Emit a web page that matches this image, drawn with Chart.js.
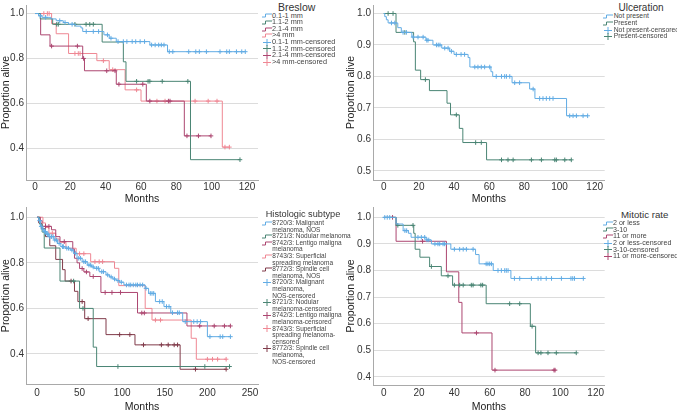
<!DOCTYPE html>
<html lang="en">
<head>
<meta charset="UTF-8">
<title>Kaplan-Meier survival by Breslow, ulceration, subtype and mitotic rate</title>
<script src="https://cdn.jsdelivr.net/npm/chart.js@4.4.1/dist/chart.umd.min.js"></script>
<style>
  body { margin: 0; background: #fff; width: 677px; height: 415px; overflow: hidden; position: relative;
         font-family: "Liberation Sans", Arial, sans-serif; }
  canvas { position: absolute; }
  .lt { position: absolute; white-space: nowrap; color: #333; transform: translate(-50%, -50%); }
  .row { position: absolute; white-space: pre; color: #444; }
  .ic { position: absolute; display: block; }
</style>
</head>
<body>
<canvas id="breslow"></canvas>
<canvas id="ulceration"></canvas>
<canvas id="histology"></canvas>
<canvas id="mitotic"></canvas>
<script>
  // ---- Breslow (months, proportion alive) ----
  const breslowNames = ['0.1-1 mm', '1.1-2 mm', '2.1-4 mm', '>4 mm'];
  const bres1T = [0, 2, 4, 9, 12, 16, 19, 23, 26, 27, 39, 42, 46, 65, 75];
  const bres1S = [1, 0.99, 0.983, 0.976, 0.968, 0.96, 0.952, 0.944, 0.936, 0.92, 0.905, 0.89, 0.875, 0.86, 0.83];
  const bres1C = [3, 6, 14, 17, 21, 29, 33, 36, 41, 43, 47, 50, 52, 55, 57, 59.5, 62, 66, 68, 70, 71.5, 73,
                  76, 78, 87, 91, 93, 97, 104.7, 108.5, 110, 114, 117, 119];
  const bres2T = [0, 3, 10, 38, 50, 51.5, 88];
  const bres2S = [1, 0.976, 0.952, 0.873, 0.785, 0.698, 0.349];
  const bres2C = [12.3, 13.2, 22.6, 28.9, 31, 33, 57.5, 64, 65, 72, 86.5, 116];
  const bres3T = [0, 3.2, 8.5, 27, 28, 46, 63, 84.5];
  const bres3S = [1, 0.905, 0.855, 0.8, 0.745, 0.685, 0.61, 0.455];
  const bres3C = [9.4, 24, 27.5, 40.6, 45.3, 47.5, 61, 65, 75.5, 76.4, 86, 92.5, 99.6];
  const bres4T = [0, 9.4, 12, 19, 35, 42, 51, 60, 106];
  const bres4S = [1, 0.955, 0.91, 0.822, 0.79, 0.75, 0.66, 0.61, 0.405];
  const bres4C = [5, 7, 8, 22.6, 24.5, 25.5, 38.7, 44, 57.5, 69, 73.6, 90.6, 98, 103, 107.5, 110];

  // ---- Ulceration ----
  const ulcNames = ['Not present', 'Present'];
  const ulcNoT = [0, 0.6, 1.5, 2.5, 8, 10, 16, 24, 28, 33, 37.5, 40, 48, 49, 61, 62, 73, 83, 86, 104];
  const ulcNoS = [1, 0.99, 0.98, 0.97, 0.955, 0.94, 0.925, 0.915, 0.9, 0.89, 0.88, 0.87, 0.86, 0.83, 0.815, 0.8,
                  0.78, 0.76, 0.73, 0.675];
  const ulcNoC = [4.4, 6.3, 11, 12.9, 16.7, 19.5, 22.4, 24.5, 25.2, 30, 31, 32, 34.7, 36.6, 38.5, 41.3, 44, 46,
                  51.8, 53.6, 55.5, 57.4, 60.3, 64, 67, 68.8, 69.8, 71.7, 74.5, 77.3, 85, 88.7, 90.6, 92.5, 94.4,
                  96.3, 105.8, 107.7, 109.6, 113.4, 116];
  const ulcYesT = [0, 7, 17, 18, 21, 26, 36, 38, 43, 45, 58.5];
  const ulcYesS = [1, 0.94, 0.91, 0.82, 0.79, 0.755, 0.715, 0.678, 0.635, 0.59, 0.535];
  const ulcYesC = [2.5, 5.3, 12, 23.7, 41.3, 52.3, 55.5, 67, 70.7, 73.6, 84, 89.7, 97.3, 98.2, 103, 106.7];

  // ---- Histologic subtype ----
  const histNames = ['8720/3: Malignant\nmelanoma, NOS', '8721/3: Nodular melanoma', '8742/3: Lentigo maligna\nmelanoma',
                     '8743/3: Superficial\nspreading melanoma', '8772/3: Spindle cell\nmelanoma, NOS'];
  const histCensNames = ['8720/3: Malignant\nmelanoma,\nNOS-censored', '8721/3: Nodular\nmelanoma-censored',
                         '8742/3: Lentigo maligna\nmelanoma-censored', '8743/3: Superficial\nspreading melanoma-\ncensored',
                         '8772/3: Spindle cell\nmelanoma,\nNOS-censored'];
  const hist1T = [0, 2, 4, 6, 8, 11, 14, 20, 24, 28, 33, 39, 43, 47, 53, 59, 64, 67, 73, 81, 85, 89, 93, 97, 102,
                  127, 131, 139, 149, 157, 171, 200];
  const hist1S = [1, 0.985, 0.96, 0.948, 0.937, 0.926, 0.915, 0.9, 0.885, 0.871, 0.864, 0.856, 0.842, 0.82, 0.805,
                  0.79, 0.782, 0.776, 0.761, 0.747, 0.738, 0.729, 0.722, 0.715, 0.703, 0.688, 0.666, 0.63, 0.608,
                  0.581, 0.542, 0.476];
  const hist1C = [3, 5, 7, 9, 10, 12, 13, 15, 17, 19, 21, 23, 26, 30, 31, 35, 37, 41, 45, 49, 51, 55, 57, 61, 63,
                  66, 70, 72, 76, 78, 83, 87, 91, 95, 99, 105, 108, 110, 113, 116, 118, 121, 124, 128, 133, 135, 137,
                  144, 147, 152, 155, 159, 165, 167, 174, 184, 188, 192, 203, 215, 218, 227];
  const hist2T = [0, 3, 6, 8.5, 27, 50, 66, 70];
  const hist2S = [1, 0.97, 0.935, 0.865, 0.72, 0.6, 0.43, 0.345];
  const hist2C = [43, 54, 95, 197, 226];
  const hist3T = [0, 4, 6, 17, 22, 27, 42, 44, 47, 50, 55, 62, 75, 118, 176];
  const hist3S = [1, 0.985, 0.96, 0.945, 0.915, 0.893, 0.86, 0.82, 0.8, 0.775, 0.76, 0.74, 0.67, 0.58, 0.523];
  const hist3C = [10, 14, 32, 53, 58, 66, 80, 88, 98, 123, 126, 191, 208, 220, 227];
  const hist4T = [0, 7, 10, 14, 22, 26, 34, 46, 63, 91, 96, 127, 135, 181, 187];
  const hist4S = [1, 0.975, 0.955, 0.93, 0.905, 0.89, 0.864, 0.84, 0.805, 0.776, 0.7, 0.6, 0.549, 0.469, 0.377];
  const hist4C = [18, 50, 55, 68, 73, 77, 139, 145, 200, 206, 212, 222];
  const hist5T = [0, 2, 5, 10, 15, 22, 30, 33, 44, 48, 56, 81, 115, 168];
  const hist5S = [1, 0.975, 0.95, 0.915, 0.875, 0.815, 0.77, 0.72, 0.675, 0.63, 0.555, 0.485, 0.44, 0.333];
  const hist5C = [40, 53, 60, 97, 109, 125, 146, 154, 161, 165, 186, 222];

  // ---- Mitotic rate ----
  const mitNames = ['2 or less', '3-10', '11 or more'];
  const mit1T = [0, 7, 11, 14, 15.5, 24, 27, 38, 52, 54, 62, 72];
  const mit1S = [1, 0.975, 0.95, 0.94, 0.925, 0.915, 0.9, 0.88, 0.86, 0.825, 0.8, 0.77];
  const mit1C = [0.6, 2, 3.4, 12, 13, 19.4, 21.3, 23.2, 24.5, 25.5, 29, 30.7, 31.7, 33.6, 34.5, 40, 43, 45, 46.8,
                 50.6, 58, 59, 60, 61, 64.7, 66.6, 68.5, 69.4, 70.4, 74, 77, 83.6, 87.4, 89, 92, 95, 100.6, 106, 107,
                 108, 113];
  const mit2T = [0, 7, 17, 17.8, 20.5, 26, 32.6, 39, 58, 83, 86];
  const mit2S = [1, 0.97, 0.94, 0.88, 0.85, 0.815, 0.78, 0.745, 0.675, 0.59, 0.49];
  const mit2C = [8, 16.6, 27, 36.4, 40, 43, 45, 49.6, 50.6, 55, 56, 71.3, 77, 84, 87.4, 89, 93, 97.7, 109];
  const mit3T = [0, 7, 35.5, 42.5, 44.3, 61.3];
  const mit3S = [1, 0.91, 0.795, 0.68, 0.565, 0.425];
  const mit3C = [5, 22, 52.5, 63, 96.4, 97];

  // axis ticks
  const monthTicks120 = [0, 20, 40, 60, 80, 100, 120];
  const monthTicks250 = [0, 50, 100, 150, 200, 250];
  const propTicksWide = [0.4, 0.6, 0.8, 1.0];
  const propTicksUlc = [0.5, 0.6, 0.7, 0.8, 0.9, 1.0];
  const propTicksMit = [0.4, 0.5, 0.6, 0.7, 0.8, 0.9, 1.0];

  const BLUE = '#62ace4', TEAL = '#4a8574', CRIMSON = '#ac4670', PINK = '#ef8793', BROWN = '#803b4a';
  const AXIS = '#a9a9a9', GRID = '#dcdcdc';
  Chart.defaults.font.family = '"Liberation Sans", Arial, sans-serif';

  // survival value in force at time t (KM step)
  function stepAt(T, S, t) {
    let v = S[0];
    for (let i = 0; i < T.length; i++) if (T[i] <= t) v = S[i];
    return v;
  }

  function kmSets(T, S, C, color) {
    const pts = T.map((t, i) => ({x: t, y: S[i]}));
    const end = Math.max(...C);
    if (end > T[T.length - 1]) pts.push({x: end, y: S[S.length - 1]});
    return [
      {data: pts, stepped: true, borderColor: color, borderWidth: 1, pointRadius: 0, fill: false},
      {data: C.map(t => ({x: t, y: stepAt(T, S, t)})), showLine: false, pointStyle: 'cross',
       pointRadius: 2.3, borderColor: color, borderWidth: 1}
    ];
  }

  function makeChart(id, box, xr, yr, xt, yt, datasets) {
    const cv = document.getElementById(id);
    cv.width = box.w; cv.height = box.h;
    cv.style.left = box.left + 'px'; cv.style.top = box.top + 'px';
    return new Chart(cv, {
      type: 'line',
      data: {datasets},
      options: {
        responsive: false, animation: false, events: [],
        layout: {padding: {left: 0, top: box.t - box.top, right: box.left + box.w - box.r, bottom: 0}},
        plugins: {legend: {display: false}, tooltip: {enabled: false}},
        scales: {
          x: {
            type: 'linear', min: xr[0], max: xr[1],
            afterBuildTicks: s => { s.ticks = xt.map(v => ({value: v})); },
            afterFit: s => { s.height = box.top + box.h - box.b; s.paddingLeft = 0; s.paddingRight = 0; },
            ticks: {autoSkip: false, maxRotation: 0, padding: box.xpad, color: '#333', font: {size: 10},
                    callback: v => String(v)},
            grid: {display: false, drawTicks: false},
            border: {display: true, color: AXIS, width: 1},
            title: {display: true, text: 'Months', color: '#222', font: {size: 10.5},
                    padding: {top: 0, bottom: box.tpad}}
          },
          y: {
            type: 'linear', min: yr[0], max: yr[1],
            afterBuildTicks: s => { s.ticks = yt.map(v => ({value: v})); },
            afterFit: s => { s.width = box.l - box.left; s.paddingTop = 0; s.paddingBottom = 0; },
            ticks: {autoSkip: false, padding: 2, color: '#333', font: {size: 10}, callback: v => v.toFixed(1)},
            grid: {color: GRID, lineWidth: 1, drawTicks: false},
            border: {display: true, color: AXIS, width: 1},
            title: {display: true, text: 'Proportion alive', color: '#222', font: {size: 10.5},
                    padding: {top: box.ypad, bottom: 0}}
          }
        }
      }
    });
  }

  makeChart('breslow',
    {left: 0, top: 0, w: 266, h: 206, l: 26, r: 258, t: 2, b: 180, xpad: 1, tpad: 0.7, ypad: 0},
    [-5.09, 126.2], [0.2585, 1.038], monthTicks120, propTicksWide,
    [...kmSets(bres1T, bres1S, bres1C, BLUE), ...kmSets(bres2T, bres2S, bres2C, TEAL),
     ...kmSets(bres3T, bres3S, bres3C, CRIMSON), ...kmSets(bres4T, bres4S, bres4C, PINK)]);

  makeChart('ulceration',
    {left: 338, top: 0, w: 273, h: 206, l: 373, r: 604.7, t: 2, b: 180, xpad: 1, tpad: 0.7, ypad: 6.4},
    [-6.1, 125.7], [0.471, 1.027], monthTicks120, propTicksUlc,
    [...kmSets(ulcNoT, ulcNoS, ulcNoC, BLUE), ...kmSets(ulcYesT, ulcYesS, ulcYesC, TEAL)]);

  makeChart('histology',
    {left: 0, top: 200, w: 266, h: 215, l: 26, r: 258, t: 207, b: 384.3, xpad: 2.7, tpad: 1.4, ypad: 0},
    [-12.9, 259.4], [0.267, 1.045], monthTicks250, propTicksWide,
    [...kmSets(hist1T, hist1S, hist1C, BLUE), ...kmSets(hist2T, hist2S, hist2C, TEAL),
     ...kmSets(hist3T, hist3S, hist3C, CRIMSON), ...kmSets(hist4T, hist4S, hist4C, PINK),
     ...kmSets(hist5T, hist5S, hist5C, BROWN)]);

  makeChart('mitotic',
    {left: 338, top: 200, w: 273, h: 215, l: 373, r: 604.7, t: 207, b: 385, xpad: 2.7, tpad: 1.4, ypad: 6.4},
    [-6.06, 125.1], [0.369, 1.039], monthTicks120, propTicksMit,
    [...kmSets(mit1T, mit1S, mit1C, BLUE), ...kmSets(mit2T, mit2S, mit2C, TEAL),
     ...kmSets(mit3T, mit3S, mit3C, CRIMSON)]);

  // ---- legends (HTML, SPSS style) ----
  const SVGNS = 'http://www.w3.org/2000/svg';
  function icon(kind, color, x, y) {
    const svg = document.createElementNS(SVGNS, 'svg');
    const w = kind === 'step' ? 10 : 8, h = kind === 'step' ? 5 : 7;
    svg.setAttribute('width', w); svg.setAttribute('height', h);
    svg.setAttribute('class', 'ic');
    svg.style.left = x + 'px'; svg.style.top = (y - h / 2) + 'px';
    const p = document.createElementNS(SVGNS, 'path');
    p.setAttribute('d', kind === 'step' ? 'M0 4H3.5V1H10' : 'M0 3.5H8M4 0V7');
    p.setAttribute('stroke', color); p.setAttribute('fill', 'none'); p.setAttribute('stroke-width', '1');
    svg.appendChild(p);
    document.body.appendChild(svg);
  }
  function legend(cfg, title, names, censNames, colors) {
    const t = document.createElement('div');
    t.className = 'lt'; t.textContent = title;
    t.style.left = cfg.tx + 'px'; t.style.top = cfg.ty + 'px'; t.style.fontSize = cfg.tfs + 'px';
    document.body.appendChild(t);
    const entries = names.map((n, i) => ({text: n, kind: 'step', color: colors[i]}))
      .concat(censNames.map((n, i) => ({text: n, kind: 'cens', color: colors[i]})));
    let line = 0;
    entries.forEach(e => {
      const yc = cfg.y0 + line * cfg.rh;
      const d = document.createElement('div');
      d.className = 'row'; d.textContent = e.text;
      d.style.left = cfg.x + 'px'; d.style.top = (yc - cfg.rh / 2) + 'px';
      d.style.fontSize = cfg.fs + 'px'; d.style.lineHeight = cfg.rh + 'px';
      document.body.appendChild(d);
      icon(e.kind, e.color, cfg.x - (e.kind === 'step' ? 10.5 : 9.5), yc);
      line += e.text.split('\n').length;
    });
  }

  legend({tx: 296.7, ty: 6.8, tfs: 10.5, x: 272, y0: 15.8, rh: 6.6, fs: 7.3}, 'Breslow',
    breslowNames, breslowNames.map(n => n + '-censored'), [BLUE, TEAL, CRIMSON, PINK]);
  legend({tx: 641, ty: 7, tfs: 10, x: 613.7, y0: 16.7, rh: 6.67, fs: 6.8}, 'Ulceration',
    ulcNames, ulcNames.map(n => n + '-censored'), [BLUE, TEAL]);
  legend({tx: 303, ty: 214.3, tfs: 9.2, x: 272.3, y0: 223.3, rh: 6.6, fs: 6.5}, 'Histologic subtype',
    histNames, histCensNames, [BLUE, TEAL, CRIMSON, PINK, BROWN]);
  legend({tx: 644.7, ty: 214, tfs: 9.7, x: 613, y0: 223.3, rh: 6.67, fs: 7.1}, 'Mitotic rate',
    mitNames, mitNames.map(n => n + '-censored'), [BLUE, TEAL, CRIMSON]);
</script>
</body>
</html>
